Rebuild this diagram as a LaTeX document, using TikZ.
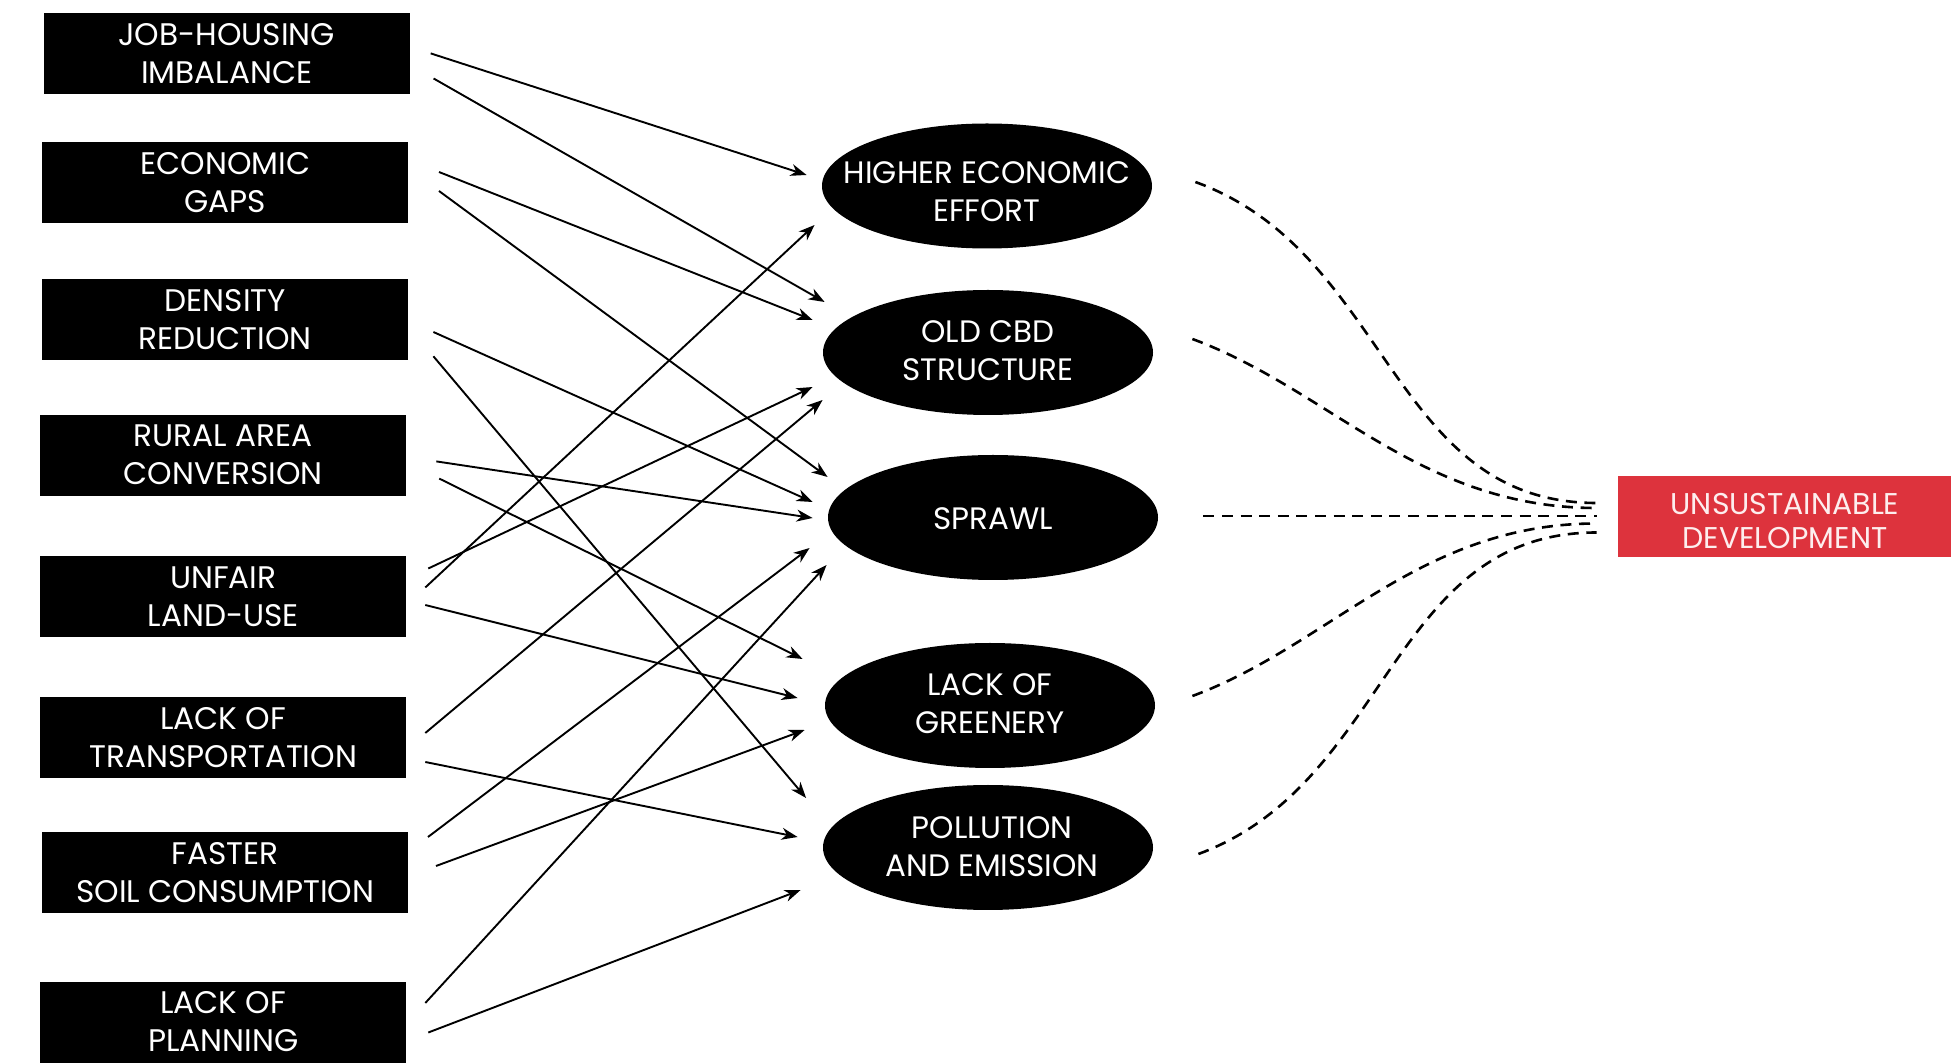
\documentclass[tikz,border=0pt]{standalone}
\usepackage{fontspec}
\setmainfont{Poppins}
\usetikzlibrary{arrows.meta,shapes.geometric,calc}
\definecolor{udred}{RGB}{221,51,61}
\definecolor{udtext}{RGB}{253,238,238}
\begin{document}
\begin{tikzpicture}[x=0.5pt,y=-0.5pt,
  cause/.style={rectangle, fill=black, text=white, minimum width=183pt, minimum height=40.5pt,
    inner sep=0pt, align=center, font=\fontsize{15.6}{19}\selectfont},
  effect/.style={ellipse, fill=black, minimum width=165pt, minimum height=62.5pt, inner sep=0pt},
  efftext/.style={text=white, inner sep=0pt, align=center, font=\fontsize{15.5}{19}\selectfont},
  result/.style={rectangle, fill=udred, text=udtext, minimum width=166.5pt, minimum height=40.5pt,
    inner sep=0pt, align=center, font=\fontsize{15}{16.8}\selectfont},
  arr/.style={-{Stealth[length=8pt,width=6pt,inset=2.5pt]}, line width=0.95pt},
  dline/.style={dash pattern=on 5.5pt off 3.8pt, line width=1.3pt}]
\useasboundingbox (0,0) rectangle (1951,1063);
% causes
\node[cause] (jh) at (226.7,53.2) {JOB-HOUSING\\IMBALANCE};
\node[cause] (eg) at (225.3,183) {ECONOMIC\\GAPS};
\node[cause] (dr) at (225.3,319.3) {DENSITY\\REDUCTION};
\node[cause] (ra) at (223.3,455.1) {RURAL AREA\\CONVERSION};
\node[cause] (ul) at (223.3,596.5) {UNFAIR\\LAND-USE};
\node[cause] (lt) at (223.3,738) {LACK OF\\TRANSPORTATION};
\node[cause] (fs) at (225.3,872.6) {FASTER\\SOIL CONSUMPTION};
\node[cause] (lp) at (223.3,1022) {LACK OF\\PLANNING};
% effects
\node[effect] (hee) at (987,186) {};
\node[efftext] (heet) at (987,192) {HIGHER ECONOMIC\\EFFORT};
\node[effect] (ocs) at (988,352.5) {};
\node[efftext] (ocst) at (988,351) {OLD CBD\\STRUCTURE};
\node[effect] (spr) at (993,517.5) {};
\node[efftext] (sprt) at (993,519) {SPRAWL};
\node[effect] (log) at (990,705.5) {};
\node[efftext] (logt) at (990,704) {LACK OF\\GREENERY};
\node[effect] (pae) at (988,847.5) {};
\node[efftext] (paet) at (992,846.5) {POLLUTION\\AND EMISSION};
% result
\node[result] (ud) at (1784.5,516.5) {};
\node[result, fill=none, minimum width=0pt, minimum height=0pt] (udt) at (1785,521) {UNSUSTAINABLE\\DEVELOPMENT};
% arrows
\draw[arr] ([shift={(20.6,0.2)}]jh.east) -- ([shift={(-15,-11)}]hee.west);
\draw[arr] ([shift={(23.5,25.3)}]jh.east) -- ([shift={(2,-50.5)}]ocs.west);
\draw[arr] ([shift={(30.3,-11)}]eg.east) -- ([shift={(-10,-32.5)}]ocs.west);
\draw[arr] ([shift={(30.3,8)}]eg.east) -- ([shift={(0,-40.5)}]spr.west);
\draw[arr] ([shift={(24.7,12.7)}]dr.east) -- ([shift={(-15,-15.5)}]spr.west);
\draw[arr] ([shift={(24.7,37)}]dr.east) -- ([shift={(-16.5,-49.5)}]pae.west);
\draw[arr] ([shift={(29.6,6.3)}]ra.east) -- ([shift={(-15,0.5)}]spr.west);
\draw[arr] ([shift={(32.6,23.5)}]ra.east) -- ([shift={(-22,-46.5)}]log.west);
\draw[arr] ([shift={(21.6,-28)}]ul.east) -- ([shift={(-10,34.5)}]ocs.west);
\draw[arr] ([shift={(18.6,-9)}]ul.east) -- ([shift={(-7,39)}]hee.west);
\draw[arr] ([shift={(18.6,8.5)}]ul.east) -- ([shift={(-27,-7.5)}]log.west);
\draw[arr] ([shift={(18.6,-5)}]lt.east) -- ([shift={(0,47.5)}]ocs.west);
\draw[arr] ([shift={(18.6,24)}]lt.east) -- ([shift={(-25,-10.5)}]pae.west);
\draw[arr] ([shift={(19.3,-35.6)}]fs.east) -- ([shift={(-18,30.5)}]spr.west);
\draw[arr] ([shift={(27.3,-6.6)}]fs.east) -- ([shift={(-20,24.5)}]log.west);
\draw[arr] ([shift={(18.6,-19)}]lp.east) -- ([shift={(-1,47.5)}]spr.west);
\draw[arr] ([shift={(21.6,10.5)}]lp.east) -- ([shift={(-22,42.5)}]pae.west);
% dashed links
\draw[dline] ([shift={(43,-4)}]hee.east) .. controls +(195,71) and +(-207,0) .. ([shift={(-21,-13.5)}]ud.west);
\draw[dline] ([shift={(39,-13.5)}]ocs.east) .. controls +(138,51) and +(-177,0) .. ([shift={(-21,-8.5)}]ud.west);
\draw[dline] ([shift={(45,-1.5)}]spr.east) -- ([shift={(-21,-0.5)}]ud.west);
\draw[dline] ([shift={(37,-9.5)}]log.east) .. controls +(138,-51) and +(-177,0) .. ([shift={(-21,7)}]ud.west);
\draw[dline] ([shift={(45,6.5)}]pae.east) .. controls +(192,-71) and +(-207,0) .. ([shift={(-21,16)}]ud.west);
\end{tikzpicture}
\end{document}
